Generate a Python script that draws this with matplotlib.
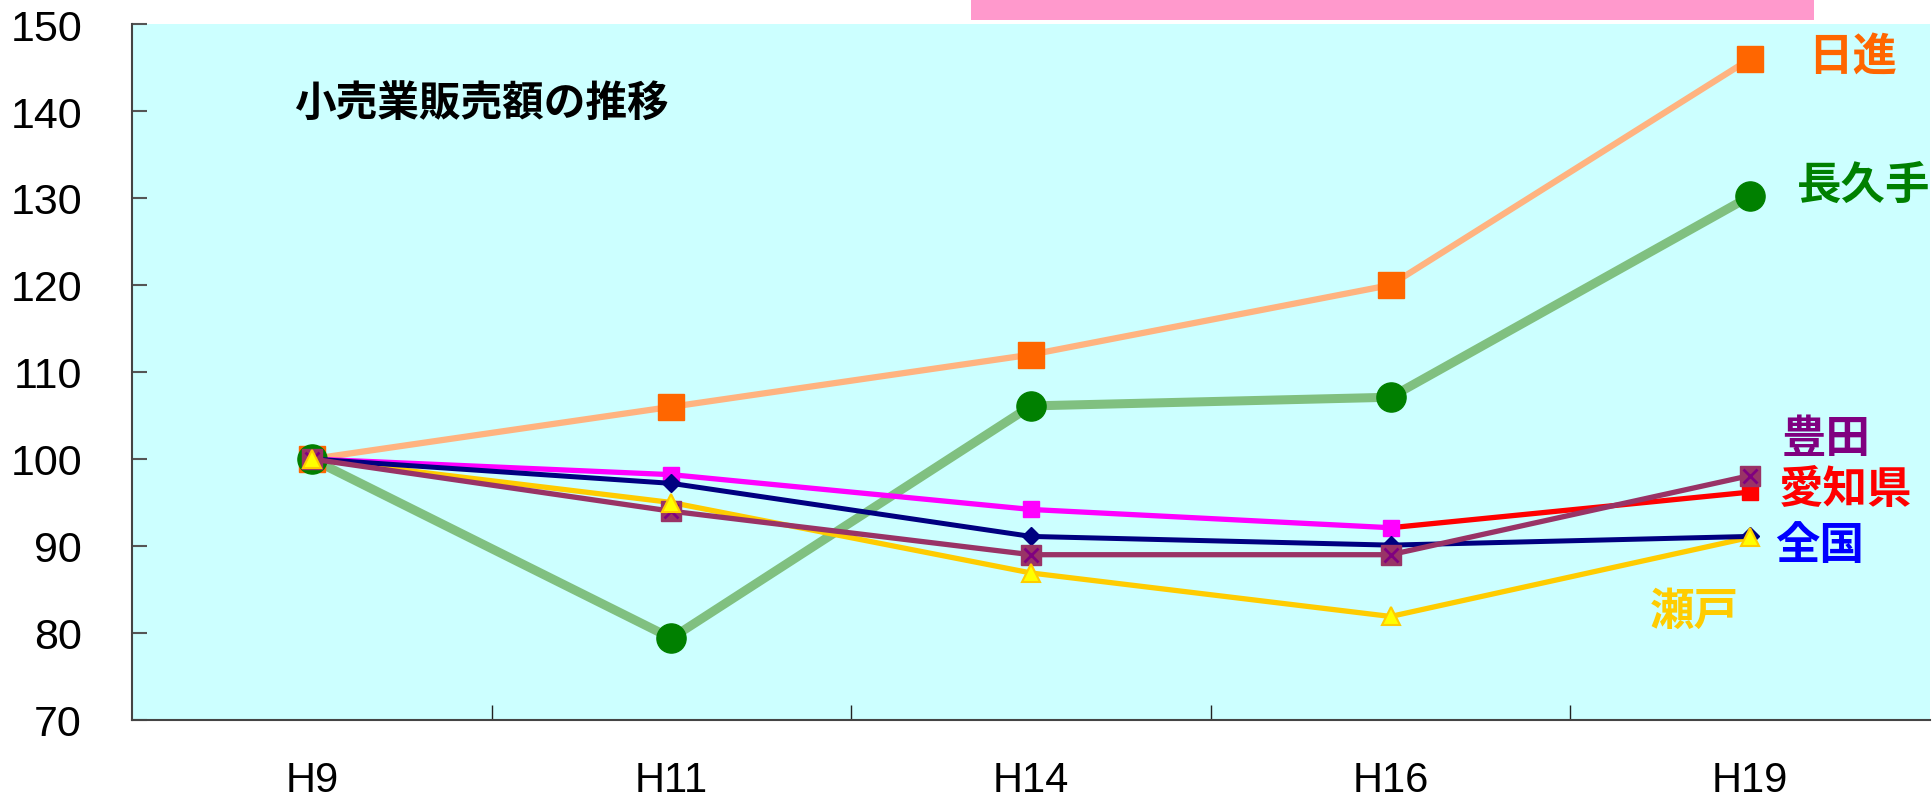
import matplotlib
matplotlib.use("Agg")
import matplotlib.pyplot as plt
from matplotlib.patches import Rectangle
from matplotlib import font_manager

categories = ["H9", "H11", "H14", "H16", "H19"]
nisshin = [100, 106, 112, 120, 146]
nagakute = [100, 79.4, 106.1, 107.1, 130.2]
aichi = [100, 98.2, 94.2, 92.1, 96.2]
zenkoku = [100, 97.2, 91.1, 90.1, 91.1]
toyota = [100, 94.0, 89.0, 89.0, 98.1]
seto = [100, 95.0, 86.9, 81.9, 91.0]
y_ticks = [70, 80, 90, 100, 110, 120, 130, 140, 150]

names = [f.name for f in font_manager.fontManager.ttflist]
num_font = ["Liberation Sans Narrow"] if "Liberation Sans Narrow" in names else ["Liberation Sans"]
cjk = ["Noto Sans CJK JP", "DejaVu Sans"]

W, H = 1932, 804
fig = plt.figure(figsize=(W / 100, H / 100), dpi=100)
ax = fig.add_axes([132 / W, 1 - 721 / H, (1930 - 132) / W, (721 - 25) / H])
ax.set_facecolor("#CCFFFF")

x = list(range(len(categories)))

# 日進
ax.plot(x, nisshin, color="#FFB380", lw=4.5, zorder=3)
ax.plot(x, nisshin, ls="none", marker="s", ms=19, color="#FF6600", zorder=4)
# 長久手
ax.plot(x, nagakute, color="#80C080", lw=6.5, zorder=3)
ax.plot(x, nagakute, ls="none", marker="o", ms=21, color="#008000", zorder=4)
# 愛知県
ax.plot(x[:4], aichi[:4], color="#FF00FF", lw=3.8, zorder=3)
ax.plot(x[3:], aichi[3:], color="#FF0000", lw=3.8, zorder=3)
ax.plot(x[:4], aichi[:4], ls="none", marker="s", ms=12, color="#FF00FF", zorder=4)
ax.plot(x[4:], aichi[4:], ls="none", marker="s", ms=12, color="#FF0000", zorder=4)
# 全国
ax.plot(x, zenkoku, color="#000080", lw=3.6, marker="D", ms=9, zorder=5)
# 豊田
ax.plot(x, toyota, color="#993366", lw=3.8, zorder=5)
ax.plot(x, toyota, ls="none", marker="s", ms=14, color="#993366", zorder=6)
ax.plot(x, toyota, ls="none", marker="x", ms=10, mew=2, color="#800080", zorder=7)
# 瀬戸
ax.plot(x, seto, color="#FFCC00", lw=3.8, zorder=3)
ax.plot(x, seto, ls="none", marker="^", ms=13, mfc="#FFFF00", mec="#FFCC00", mew=1.5, zorder=8)

ax.set_xlim(-0.5, len(categories) - 0.5)
ax.set_ylim(70, 150)
ax.set_yticks(y_ticks)
ax.set_yticklabels([str(v) for v in y_ticks], fontfamily=num_font, fontsize=31)
ax.set_xticks(x)
ax.set_xticklabels(categories, fontfamily=num_font, fontsize=30)
ax.set_xticks([i + 0.5 for i in x[:-1]], minor=True)
ax.tick_params(axis="x", which="major", length=0, pad=29)
ax.tick_params(axis="x", which="minor", direction="in", length=11, width=1, color="#222222")
ax.tick_params(axis="y", direction="in", length=11, width=1.5, color="#555555", pad=36)

for s in ["top", "right"]:
    ax.spines[s].set_visible(False)
for s in ["left", "bottom"]:
    ax.spines[s].set_color("#444444")
    ax.spines[s].set_linewidth(1.5)

# pink box above plot
fig.patches.append(Rectangle((971 / W, 1 - 21 / H), (1814 - 971) / W, 21 / H,
                             transform=fig.transFigure, facecolor="#FF99CC", edgecolor="none"))

def ftxt(px, py, s, color, size=32):
    fig.text(px / W, 1 - py / H, s, color=color, fontsize=size, fontweight="bold",
             family=cjk, ha="left", va="center")

ftxt(294, 105, "小売業販売額の推移", "black", 30)
ftxt(1808, 57, "日進", "#FF6600")
ftxt(1797, 186, "長久手", "#008000")
ftxt(1782, 439, "豊田", "#800080")
ftxt(1779, 490, "愛知県", "#FF0000")
ftxt(1775, 546, "全国", "#0000FF")
ftxt(1650, 612, "瀬戸", "#FFCC00")

fig.savefig("out.png", dpi=100)
